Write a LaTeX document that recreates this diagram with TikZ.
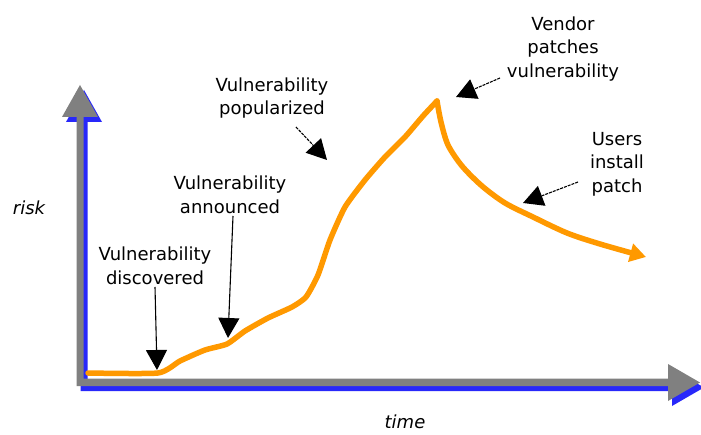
\documentclass[tikz,border=0pt]{standalone}
\usepackage{fontspec}
\setmainfont{DejaVu Sans}
\usetikzlibrary{arrows.meta}
\definecolor{axgrey}{RGB}{128,128,128}
\definecolor{axblue}{RGB}{40,40,250}
\definecolor{riskorange}{RGB}{255,153,0}
\tikzset{
  lbl/.style={align=center, inner sep=0pt, font=\fontsize{18}{23.5}\selectfont},
  axlbl/.style={inner sep=0pt, font=\fontsize{18}{22}\selectfont\itshape},
  pointer/.style={line width=1.1pt, -{Triangle[length=20pt,width=21pt]}},
  dpointer/.style={pointer, dash pattern=on 3pt off 1pt},
  curve/.style={riskorange, line width=5.5pt, line cap=round, line join=round}
}
\newcommand{\axesshape}{%
  (76.5,117) -- (62,117) -- (80,85) -- (98,117) -- (83.5,117) -- (83.5,378.5)
  -- (668,378.5) -- (668,364) -- (700,382.5) -- (668,401) -- (668,386) -- (76.5,386) -- cycle}
\begin{document}
\begin{tikzpicture}[x=1pt,y=-1pt]
\useasboundingbox (0,0) rectangle (701,435);
\fill[white] (0,0) rectangle (701,435);
% axes with blue shadow
\begin{scope}[shift={(4,5)}]
\fill[axblue] \axesshape;
\end{scope}
\fill[axgrey] \axesshape;
% risk curve
\draw[curve] plot[smooth, tension=0.35] coordinates {(88,373) (158,373) (180,361) (205,350) (227,344) (245,331) (268,318) (292,307) (306,297) (318,275) (330,240) (345,207) (365,180) (385,157) (405,137) (423,116) (437,101)};
\draw[curve, -{Triangle[length=16pt,width=18pt]}] plot[smooth, tension=0.5] coordinates {(437,101) (441,122) (448,145) (462,166) (482,186) (505,203) (533,217) (567,233) (600,244) (646,257)};
% labels
\node[lbl] (disc) at (155,266) {Vulnerability\\discovered};
\node[lbl] (ann) at (230,195) {Vulnerability\\announced};
\node[lbl] (pop) at (272,98) {Vulnerability\\popularized};
\node[lbl] (vend) at (563,49) {Vendor\\patches\\vulnerability};
\node[lbl] (usr) at (617,164) {Users\\install\\patch};
\node[axlbl] (risk) at (29,208) {risk};
\node[axlbl] (time) at (405,422) {time};
% pointer tips
\coordinate (discT) at (157,370);
\coordinate (annT) at (228,338);
\coordinate (popT) at (327,160);
\coordinate (vendT) at (456,97);
\coordinate (usrT) at (523,203);
\coordinate (discS) at (155,287);
\coordinate (annS) at (233,216);
\coordinate (popS) at (296,127);
\coordinate (vendS) at (500,78);
\coordinate (usrS) at (578,182);
\draw[pointer] (discS) -- (discT);
\draw[pointer] (annS) -- (annT);
\draw[dpointer] (popS) -- (popT);
\draw[dpointer] (vendS) -- (vendT);
\draw[dpointer] (usrS) -- (usrT);
\end{tikzpicture}
\end{document}
